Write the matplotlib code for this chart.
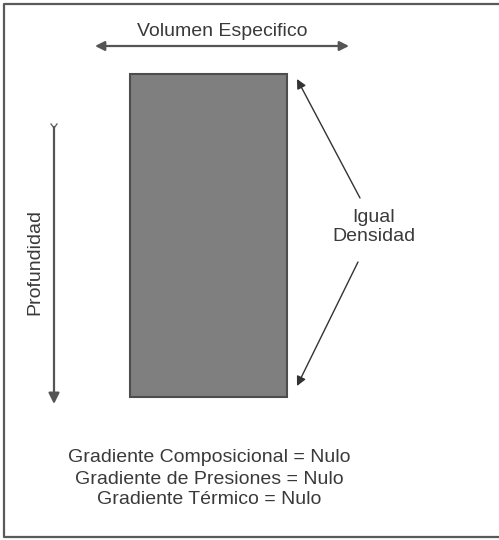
import matplotlib.pyplot as plt
from matplotlib.patches import Rectangle

plt.rcParams['font.family'] = ['Liberation Sans', 'DejaVu Sans']

# layout in pixel units (499 x 540 canvas)
frame_x = [499, 4, 4, 499]
frame_y = [4, 4, 537, 537]
column = [130, 74, 157, 323]            # x, y, width, height
width_arrow = [(95, 46), (349, 46)]
depth_arrow = [(54, 127), (54, 404)]
density_arrows = [[(360, 198), (297, 79)], [(358, 262), (297, 386)]]
notes = ['Gradiente Composicional = Nulo',
         'Gradiente de Presiones = Nulo',
         'Gradiente Térmico = Nulo']
notes_y = [457, 479, 499]

txt = '#3a3a3a'
fs = 14
fig = plt.figure(figsize=(4.99, 5.4), dpi=100)
ax = fig.add_axes([0, 0, 1, 1])
ax.set_xlim(0, 499)
ax.set_ylim(540, 0)
ax.axis('off')

ax.plot(frame_x, frame_y, color='#5a5a5a', lw=1.6, solid_capstyle='butt')

ax.add_patch(Rectangle((column[0], column[1]), column[2], column[3],
                       facecolor='#7f7f7f', edgecolor='#4d4d4d', lw=1.5))

# horizontal arrow
ax.annotate('', xy=width_arrow[0], xytext=width_arrow[1],
            arrowprops=dict(arrowstyle='<|-|>', color='#555555', lw=1.6,
                            mutation_scale=14, shrinkA=0, shrinkB=0))
ax.text(222, 31, 'Volumen Especifico', ha='center', va='center',
        fontsize=fs, color=txt)

# vertical arrow
ax.annotate('', xy=depth_arrow[1], xytext=depth_arrow[0],
            arrowprops=dict(arrowstyle='-|>', color='#555555', lw=1.6,
                            mutation_scale=16, shrinkA=0, shrinkB=0))
x0, y0 = depth_arrow[0]
ax.plot([x0 - 3, x0, x0 + 3], [y0 - 3, y0 + 1, y0 - 3], color='#666666', lw=1)
ax.text(35, 262, 'Profundidad', ha='center', va='center', rotation=90,
        fontsize=fs, color=txt)

# density arrows
for start, end in density_arrows:
    ax.annotate('', xy=end, xytext=start,
                arrowprops=dict(arrowstyle='-|>', color='#333333', lw=1,
                                mutation_scale=14, shrinkA=0, shrinkB=0))
ax.text(374, 227, 'Igual\nDensidad', ha='center', va='center',
        fontsize=fs, color=txt, linespacing=1.2)

for line, y in zip(notes, notes_y):
    ax.text(209, y, line, ha='center', va='center', fontsize=fs, color=txt)

fig.savefig('out.png', dpi=100)
